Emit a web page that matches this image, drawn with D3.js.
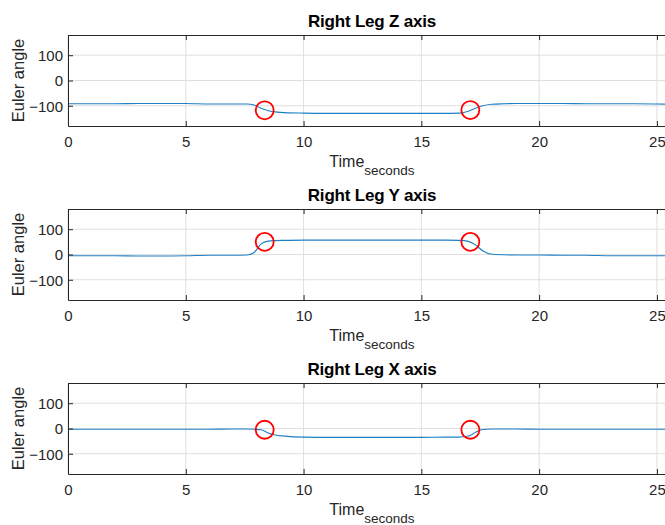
<!DOCTYPE html>
<html lang="en">
<head>
<meta charset="utf-8">
<title>Right Leg Euler angles</title>
<script src="https://d3js.org/d3.v7.min.js"></script>
<style>
  body { margin: 0; background: #fff; }
  svg text { font-family: "Liberation Sans", Arial, Helvetica, sans-serif; fill: #262626; }
</style>
</head>
<body>
<div id="chart"></div>
<script>
// time samples (seconds), shared by all three series
var timeSec = [0, 1, 2, 3, 4, 5, 6, 7, 7.6, 7.9, 8.2, 8.5, 8.8, 9.2, 10, 11, 12, 13, 14, 15, 16,
               16.6, 17.0, 17.3, 17.6, 18, 18.5, 19, 20, 21, 22, 23, 24, 25, 25.6];

// Euler angle per axis
var zAngle = [-92, -92, -92, -91, -91, -91, -93, -93, -93, -97, -110, -120, -124, -127, -129, -130, -130, -130, -130, -130, -130,
              -129, -122, -110, -100, -94, -92, -91, -91, -91, -92, -92, -92, -93, -94];
var yAngle = [-5, -5, -5, -6, -6, -5, -3, -3, -2, 8, 42, 53, 55, 56, 57, 57, 57, 57, 57, 57, 57,
              56, 52, 38, 15, 1, -1, -2, -2, -3, -3, -5, -5, -5, -5];
var xAngle = [-3, -3, -3, -3, -3, -3, -3, -2, -2, -3, -5, -18, -26, -30, -34, -35, -35, -35, -35, -35, -34,
              -34, -30, -15, -4, -2, -2, -2, -3, -3, -3, -3, -3, -3, -3];

// red circle markers
var markerTime = [8.35, 17.08];
var zMarker = [-118, -117];
var yMarker = [50, 50];
var xMarker = [-5, -5];

var panelTitles = ["Right Leg Z axis", "Right Leg Y axis", "Right Leg X axis"];
var xTicks = [0, 5, 10, 15, 20, 25];
var yTicks = [-100, 0, 100];

var panels = [
  { title: panelTitles[0], values: zAngle, markers: zMarker },
  { title: panelTitles[1], values: yAngle, markers: yMarker },
  { title: panelTitles[2], values: xAngle, markers: xMarker }
];

var W = 665, H = 525;
var left = 68, right = 672, plotH = 91, firstTop = 35, step = 174;
var axisColor = "#262626", gridColor = "#dfdfdf";

var svg = d3.select("#chart").append("svg")
  .attr("width", W)
  .attr("height", H);

var x = d3.scaleLinear().domain([0, 25.64]).range([left, right]);

panels.forEach(function(p, i) {
  var top = firstTop + i * step;
  var bottom = top + plotH;
  var y = d3.scaleLinear().domain([-180, 180]).range([bottom, top]);

  var g = svg.append("g");

  // grid
  g.selectAll(".vgrid").data(xTicks).enter().append("line")
    .attr("x1", function(d) { return x(d); })
    .attr("x2", function(d) { return x(d); })
    .attr("y1", top).attr("y2", bottom)
    .attr("stroke", gridColor).attr("stroke-width", 1);
  g.selectAll(".hgrid").data(yTicks).enter().append("line")
    .attr("x1", left).attr("x2", right)
    .attr("y1", function(d) { return y(d); })
    .attr("y2", function(d) { return y(d); })
    .attr("stroke", gridColor).attr("stroke-width", 1);

  // data line
  var line = d3.line()
    .x(function(d, k) { return x(timeSec[k]); })
    .y(function(d) { return y(d); })
    .curve(d3.curveMonotoneX);
  g.append("path")
    .datum(p.values)
    .attr("fill", "none")
    .attr("stroke", "#1f7fc6")
    .attr("stroke-width", 1.1)
    .attr("d", line);

  // markers
  g.selectAll(".mk").data(p.markers).enter().append("circle")
    .attr("cx", function(d, k) { return x(markerTime[k]); })
    .attr("cy", function(d) { return y(d); })
    .attr("r", 9)
    .attr("fill", "none")
    .attr("stroke", "#ff0000")
    .attr("stroke-width", 1.8);

  // axes
  var xb = g.append("g")
    .attr("transform", "translate(0," + bottom + ")")
    .call(d3.axisBottom(x).tickValues(xTicks).tickSize(-5).tickPadding(10).tickSizeOuter(0));
  var xt = g.append("g")
    .attr("transform", "translate(0," + top + ")")
    .call(d3.axisTop(x).tickValues(xTicks).tickSize(-5).tickFormat("").tickSizeOuter(0));
  var yl = g.append("g")
    .attr("transform", "translate(" + left + ",0)")
    .call(d3.axisLeft(y).tickValues(yTicks).tickSize(-5).tickPadding(5).tickSizeOuter(0));

  [xb, xt, yl].forEach(function(a) {
    a.selectAll("path, line").attr("stroke", axisColor);
    a.select(".domain").attr("stroke-width", 1);
    a.selectAll("text")
      .style("font-family", "'Liberation Sans', Arial, sans-serif")
      .style("font-size", "15px")
      .attr("fill", axisColor);
  });
  yl.selectAll("text").attr("dy", "0.36em");

  // title
  g.append("text")
    .attr("x", (left + right) / 2 + 2)
    .attr("y", top - 8.5)
    .attr("text-anchor", "middle")
    .style("font-size", "17px")
    .style("font-weight", "bold")
    .style("letter-spacing", "-0.2px")
    .style("fill", "#000")
    .text(p.title);

  // y label
  g.append("text")
    .attr("transform", "translate(24," + (top + plotH / 2) + ") rotate(-90)")
    .attr("text-anchor", "middle")
    .style("font-size", "16.5px")
    .text("Euler angle");

  // x label with subscript
  var xl = g.append("text")
    .attr("x", (left + right) / 2 + 2)
    .attr("y", bottom + 41)
    .attr("text-anchor", "middle")
    .style("font-size", "16px");
  xl.append("tspan").text("Time");
  xl.append("tspan")
    .attr("dy", 8)
    .style("font-size", "13.5px")
    .text("seconds");
});
</script>
</body>
</html>
